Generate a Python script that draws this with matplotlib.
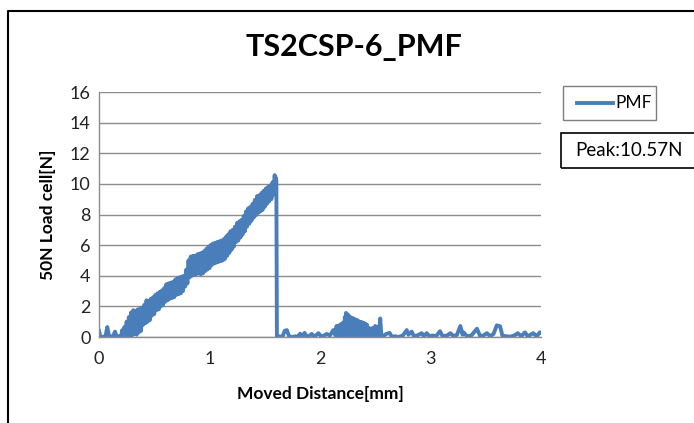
import matplotlib.pyplot as plt
from matplotlib.lines import Line2D
from matplotlib.patches import Rectangle

# moved distance [mm] / load [N] in three pieces
# 1) noise before contact
dist_pre = [0.00, 0.01, 0.02, 0.04, 0.06, 0.075, 0.09, 0.11, 0.13, 0.145, 0.16, 0.18]
load_pre = [0.40, 0.10, 0.00, 0.00, 0.10, 0.65, 0.10, 0.00, 0.10, 0.35, 0.00, 0.05]

# 2) loading ramp (noisy band) up to the peak and the break
dist_rise = [0.20, 0.21, 0.22, 0.23, 0.24, 0.25, 0.26, 0.27, 0.28, 0.29,
             0.30, 0.31, 0.32, 0.33, 0.34, 0.35, 0.36, 0.37, 0.38, 0.39,
             0.40, 0.41, 0.42, 0.43, 0.44, 0.45, 0.46, 0.47, 0.48, 0.49,
             0.50, 0.51, 0.52, 0.53, 0.54, 0.55, 0.56, 0.57, 0.58, 0.59,
             0.60, 0.61, 0.62, 0.63, 0.64, 0.65, 0.66, 0.67, 0.68, 0.69,
             0.70, 0.71, 0.72, 0.73, 0.74, 0.75, 0.76, 0.77, 0.78, 0.79,
             0.80, 0.81, 0.82, 0.83, 0.84, 0.85, 0.86, 0.87, 0.88, 0.89,
             0.90, 0.91, 0.92, 0.93, 0.94, 0.95, 0.96, 0.97, 0.98, 0.99,
             1.00, 1.01, 1.02, 1.03, 1.04, 1.05, 1.06, 1.07, 1.08, 1.09,
             1.10, 1.11, 1.12, 1.13, 1.14, 1.15, 1.16, 1.17, 1.18, 1.19,
             1.20, 1.21, 1.22, 1.23, 1.24, 1.25, 1.26, 1.27, 1.28, 1.29,
             1.30, 1.31, 1.32, 1.33, 1.34, 1.35, 1.36, 1.37, 1.38, 1.39,
             1.40, 1.41, 1.42, 1.43, 1.44, 1.45, 1.46, 1.47, 1.48, 1.49,
             1.50, 1.51, 1.52, 1.53, 1.54, 1.55, 1.56, 1.57, 1.58, 1.59,
             1.595, 1.60, 1.605, 1.61]
load_rise = [0.00, 0.45, 0.00, 0.65, 0.05, 1.00, 0.05, 1.30, 0.10, 1.60,
             0.10, 1.75, 0.20, 1.70, 0.15, 1.80, 0.30, 1.85, 0.40, 1.90,
             0.80, 2.10, 0.90, 2.40, 1.00, 2.35, 1.10, 2.50, 1.40, 2.60,
             1.50, 2.75, 1.75, 2.85, 1.80, 2.95, 2.00, 3.05, 2.10, 3.20,
             2.30, 3.45, 2.40, 3.50, 2.50, 3.55, 2.55, 3.60, 2.60, 3.75,
             2.75, 3.85, 2.80, 3.90, 2.85, 3.95, 3.00, 4.00, 3.30, 4.40,
             3.50, 5.00, 3.90, 5.25, 4.00, 5.30, 4.05, 5.30, 4.10, 5.40,
             4.15, 5.45, 4.10, 5.50, 4.15, 5.60, 4.30, 5.75, 4.40, 5.90,
             4.50, 6.00, 4.70, 6.10, 4.80, 6.15, 4.85, 6.20, 4.90, 6.25,
             4.95, 6.30, 5.00, 6.40, 5.10, 6.55, 5.30, 6.70, 5.50, 6.90,
             5.70, 7.00, 5.90, 7.20, 6.20, 7.45, 6.30, 7.55, 6.50, 7.65,
             6.70, 7.90, 6.90, 8.20, 7.20, 8.40, 7.40, 8.50, 7.60, 8.70,
             7.80, 8.95, 7.95, 9.20, 8.10, 9.25, 8.20, 9.40, 8.30, 9.55,
             8.50, 9.70, 8.70, 9.80, 8.85, 9.90, 9.00, 10.10, 9.30, 10.57,
             9.80, 10.40, 10.20, 0.00]

# 3) residual signal after the break
dist_tail = [1.63, 1.66, 1.68, 1.70, 1.72, 1.75, 1.78, 1.80, 1.82, 1.84, 1.86, 1.88,
             1.90, 1.925, 1.95, 1.985, 2.01, 2.04, 2.06, 2.09, 2.12, 2.14, 2.15, 2.16,
             2.17, 2.18, 2.19, 2.20, 2.21, 2.22, 2.225, 2.23, 2.235, 2.24, 2.245, 2.25,
             2.255, 2.26, 2.265, 2.27, 2.275, 2.28, 2.285, 2.29, 2.295, 2.30, 2.305, 2.31,
             2.315, 2.32, 2.325, 2.33, 2.335, 2.34, 2.345, 2.35, 2.355, 2.36, 2.365, 2.37,
             2.375, 2.38, 2.385, 2.39, 2.395, 2.40, 2.405, 2.41, 2.415, 2.42, 2.425, 2.43,
             2.44, 2.45, 2.46, 2.47, 2.48, 2.49, 2.50, 2.51, 2.52, 2.525, 2.535, 2.545,
             2.555, 2.57, 2.60, 2.63, 2.65, 2.68, 2.71, 2.75, 2.785, 2.80, 2.83, 2.85,
             2.88, 2.92, 2.94, 2.966, 2.99, 3.02, 3.05, 3.086, 3.11, 3.15, 3.18, 3.21,
             3.24, 3.27, 3.29, 3.30, 3.33, 3.37, 3.42, 3.45, 3.48, 3.51, 3.54, 3.57,
             3.60, 3.63, 3.65, 3.68, 3.72, 3.76, 3.79, 3.82, 3.855, 3.88, 3.93, 3.96,
             3.99, 4.00]
load_tail = [0.05, 0.00, 0.40, 0.45, 0.05, 0.00, 0.05, 0.00, 0.22, 0.00, 0.27, 0.02,
             0.05, 0.20, 0.02, 0.25, 0.05, 0.10, 0.20, 0.10, 0.45, 0.10, 0.72, 0.05,
             0.75, 0.10, 0.85, 0.05, 0.95, 0.10, 1.30, 0.20, 1.57, 0.10, 1.50, 0.10,
             1.45, 0.05, 1.35, 0.10, 1.30, 0.05, 1.25, 0.10, 1.22, 0.05, 1.20, 0.10,
             1.15, 0.05, 1.12, 0.10, 1.10, 0.05, 1.05, 0.10, 1.00, 0.05, 0.98, 0.10,
             0.95, 0.05, 0.95, 0.10, 0.90, 0.05, 0.88, 0.10, 0.83, 0.05, 0.80, 0.10,
             0.60, 0.05, 0.55, 0.10, 0.60, 0.05, 0.72, 0.10, 0.65, 0.05, 0.20, 1.21,
             0.10, 0.05, 0.20, 0.27, 0.02, 0.05, 0.00, 0.10, 0.45, 0.15, 0.35, 0.05,
             0.10, 0.25, 0.05, 0.25, 0.05, 0.10, 0.05, 0.38, 0.05, 0.10, 0.25, 0.05,
             0.15, 0.72, 0.15, 0.30, 0.05, 0.10, 0.54, 0.05, 0.10, 0.25, 0.05, 0.20,
             0.76, 0.70, 0.10, 0.05, 0.02, 0.10, 0.25, 0.05, 0.30, 0.05, 0.25, 0.05,
             0.30, 0.30]

dist = dist_pre + dist_rise + dist_tail
load = load_pre + load_rise + load_tail

x_ticks = [0, 1, 2, 3, 4]
y_ticks = [0, 2, 4, 6, 8, 10, 12, 14, 16]
peak = 10.57

blue = "#4a7ebb"
grid_gray = "#8c8c8c"
plt.rcParams["font.family"] = ["Lato", "DejaVu Sans"]

fig = plt.figure(figsize=(6.94, 4.23), dpi=100)
ax = fig.add_axes([99 / 694, 86 / 423, 442 / 694, 245 / 423])

ax.plot(dist, load, color=blue, linewidth=2.8, solid_joinstyle="round")

ax.set_xlim(0, 4)
ax.set_ylim(0, 16)
ax.set_xticks(x_ticks)
ax.set_yticks(y_ticks)
ax.tick_params(length=0, labelsize=13, colors="#222222")
ax.tick_params(axis="y", pad=6)
ax.tick_params(axis="x", pad=10)
ax.grid(axis="y", color=grid_gray, linewidth=1)
ax.set_axisbelow(True)
for s in ["top", "right"]:
    ax.spines[s].set_visible(False)
for s in ["left", "bottom"]:
    ax.spines[s].set_color(grid_gray)
    ax.spines[s].set_linewidth(1)

ax.set_xlabel("Moved Distance[mm]", fontsize=12.5, fontweight="bold", labelpad=14)
ax.set_ylabel("50N Load cell[N]", fontsize=12.5, fontweight="bold", labelpad=10)

fig.text(354 / 694, 1 - 47 / 423, "TS2CSP-6_PMF", fontsize=22, fontweight="bold",
         ha="center", va="center")

# legend box
fig.patches.append(Rectangle((563 / 694, 1 - 120 / 423), 93 / 694, 34 / 423,
                             transform=fig.transFigure, fill=False,
                             edgecolor="#7f7f7f", linewidth=1))
fig.lines.append(Line2D([577 / 694, 613 / 694], [1 - 103 / 423, 1 - 103 / 423],
                        transform=fig.transFigure, color=blue, linewidth=2.8))
fig.text(615 / 694, 1 - 103 / 423, "PMF", fontsize=12.5, ha="left", va="center")

# peak box
fig.patches.append(Rectangle((561 / 694, 1 - 168 / 423), 140 / 694, 35 / 423,
                             transform=fig.transFigure, fill=False,
                             edgecolor="black", linewidth=1.2))
fig.text(575 / 694, 1 - 150 / 423, "Peak:%.2fN" % peak, fontsize=13.5,
         ha="left", va="center")

# outer chart frame
fig.lines.append(Line2D([8 / 694, 8 / 694, 1], [0, 1 - 11 / 423, 1 - 11 / 423],
                        transform=fig.transFigure, color="black", linewidth=1.5))

fig.savefig("out.png", dpi=100)
